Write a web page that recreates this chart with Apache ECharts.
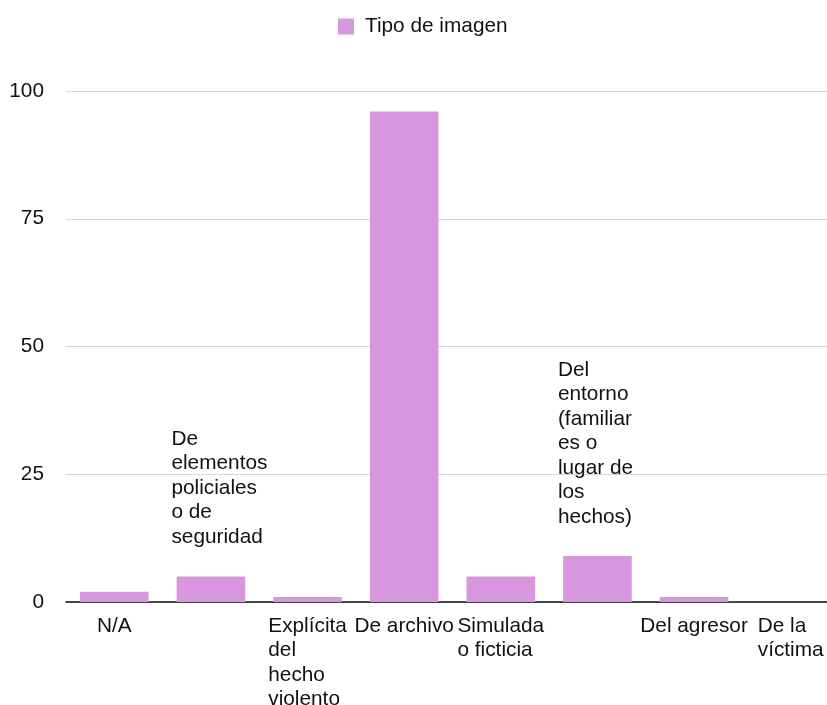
<!DOCTYPE html>
<html>
<head>
<meta charset="utf-8">
<script src="https://cdn.jsdelivr.net/npm/echarts@6/dist/echarts.min.js"></script>
<style>
  html,body{margin:0;padding:0;background:#fff;}
  #main{width:827px;height:705px;}
</style>
</head>
<body>
<div id="main"></div>
<script>
/*数据*/
var seriesName='Tipo de imagen';
var categories=[
    'N/A',
    'De\nelementos\npoliciales\no de\nseguridad',
    'Explícita\ndel\nhecho\nviolento',
    'De archivo',
    'Simulada\no ficticia',
    'Del\nentorno\n(familiar\nes o\nlugar de\nlos\nhechos)',
    'Del agresor',
    'De la\nvíctima'
];
var values=[2,5,1,96,5,9,1,0];
var raisedLabels=[1,5];   // 这些类别的标签画在柱子上方
var yTicks=[0,25,50,75,100];

!function(){
    var myChart=echarts.init(document.getElementById('main'));
    var font='"Liberation Sans", Arial, Helvetica, sans-serif';
    var fs=20.8;
    var isRaised=function(i){ return raisedLabels.indexOf(i)>=0; };
    var leftLines=function(txt){
        return txt.split('\n').map(function(s){ return '{l|'+s+'}'; }).join('\n');
    };
    var option={
        animation:false,
        textStyle:{fontFamily:font},
        color:['#d896de'],
        legend:{
            data:[seriesName],
            left:338,
            top:16,
            padding:0,
            icon:'rect',
            itemWidth:16,
            itemHeight:16,
            textStyle:{fontSize:fs,color:'#111',fontFamily:font,padding:[0,0,0,6]}
        },
        grid:{left:66,top:91,width:773,height:511,outerBoundsMode:'none',containLabel:false},
        xAxis:{
            type:'category',
            data:categories,
            axisLine:{lineStyle:{color:'#111',width:1.5}},
            axisTick:{show:false},
            axisLabel:{
                interval:0,
                margin:12,
                color:'#111',
                fontSize:fs,
                lineHeight:24.5,
                formatter:function(v,i){
                    return isRaised(i)?'':leftLines(v);
                },
                rich:{l:{align:'left',fontSize:fs,lineHeight:24.5,color:'#111',fontFamily:font}}
            }
        },
        yAxis:{
            type:'value',
            min:yTicks[0],
            max:yTicks[yTicks.length-1],
            interval:yTicks[1]-yTicks[0],
            axisLine:{show:false},
            axisTick:{show:false},
            axisLabel:{margin:22,color:'#111',fontSize:fs},
            splitLine:{lineStyle:{color:'#d6d6d6',width:1}}
        },
        series:[{
            name:seriesName,
            type:'bar',
            data:values,
            barCategoryGap:'29%',
            label:{
                show:true,
                position:'top',
                distance:27,
                align:'left',
                offset:[-39.5,0],
                color:'#111',
                fontSize:fs,
                lineHeight:24.5,
                formatter:function(p){
                    return isRaised(p.dataIndex)?categories[p.dataIndex]:'';
                }
            }
        }]
    };
    myChart.setOption(option);
}();
</script>
</body>
</html>
